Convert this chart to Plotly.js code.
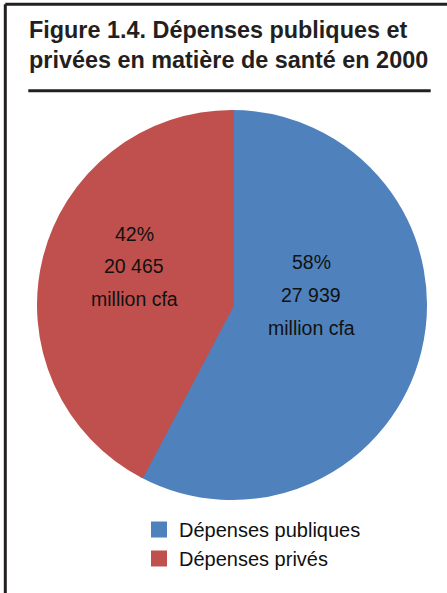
<!DOCTYPE html>
<html>
<head>
<meta charset="utf-8">
<script src="https://cdn.plot.ly/plotly-3.0.1.min.js"></script>
<style>
html,body{margin:0;padding:0;background:#fff;}
#chart{width:447px;height:593px;}
</style>
</head>
<body>
<div id="chart"></div>
<script>
// ---- data ----
var categories = ['Dépenses publiques', 'Dépenses privés'];
var values = [27939, 20465];
var unitLabel = 'million cfa';
var sliceColors = ['#4F81BD', '#C0504D'];
var titleLines = ['Figure 1.4. Dépenses publiques et', 'privées en matière de santé en 2000'];

// ---- layout helpers ----
var W = 447, H = 593;
function px(x){ return x / W; }
function py(y){ return 1 - y / H; }
var sans = '"Liberation Sans", Arial, sans-serif';

var total = values.reduce(function(a,b){return a+b;}, 0);
function fmt(n){ return String(n).replace(/\B(?=(\d{3})+(?!\d))/g, ' '); }

// label anchor positions (layout) for each slice, three lines each
var labelPos = [
  {x: 311, ys: [262, 295, 328]},
  {x: 134, ys: [234, 266, 299]}
];
var annotations = [];
values.forEach(function(v, i){
  var lines = [Math.round(v / total * 100) + '%', fmt(v), unitLabel];
  lines.forEach(function(t, j){
    annotations.push({
      xref: 'paper', yref: 'paper',
      x: px(labelPos[i].x), y: py(labelPos[i].ys[j]),
      xanchor: 'center', yanchor: 'middle',
      text: t, showarrow: false,
      font: {family: sans, size: 19.5, color: '#111111'}
    });
  });
});

var R = 195, CX = 232, CY = 305, LW = 4;
var rr = R - LW / 2;

var trace = {
  type: 'pie',
  labels: categories,
  values: values,
  sort: false,
  direction: 'clockwise',
  rotation: 0,
  textinfo: 'none',
  hoverinfo: 'label+value+percent',
  marker: {colors: sliceColors, line: {color: sliceColors, width: LW}},
  domain: {x: [px(CX - rr), px(CX + rr)], y: [py(CY + rr), py(CY - rr)]}
};

var layout = {
  width: W, height: H,
  margin: {l: 0, r: 0, t: 0, b: 0},
  paper_bgcolor: '#ffffff',
  showlegend: true,
  title: {
    text: titleLines.join('<br>'),
    x: px(29), xanchor: 'left', xref: 'container',
    y: py(38), yanchor: 'top', yref: 'container',
    font: {family: sans, size: 23.4, weight: 700, color: '#231f20'}
  },
  legend: {
    orientation: 'v',
    x: px(139), xanchor: 'left',
    y: py(510), yanchor: 'top',
    font: {family: sans, size: 20, color: '#111111'},
    bgcolor: 'rgba(0,0,0,0)'
  },
  annotations: annotations,
  shapes: [
    {type: 'line', xref: 'paper', yref: 'paper', x0: px(5.3), x1: 1.02, y0: py(4.2), y1: py(4.2), line: {color: '#231f20', width: 3}},
    {type: 'line', xref: 'paper', yref: 'paper', x0: px(5.3), x1: px(5.3), y0: -0.02, y1: py(4.2), line: {color: '#231f20', width: 3}},
    {type: 'line', xref: 'paper', yref: 'paper', x0: px(28.3), x1: px(430.7), y0: py(90.7), y1: py(90.7), line: {color: '#231f20', width: 3}}
  ]
};

Plotly.newPlot('chart', [trace], layout, {displayModeBar: false, responsive: false});
</script>
</body>
</html>
